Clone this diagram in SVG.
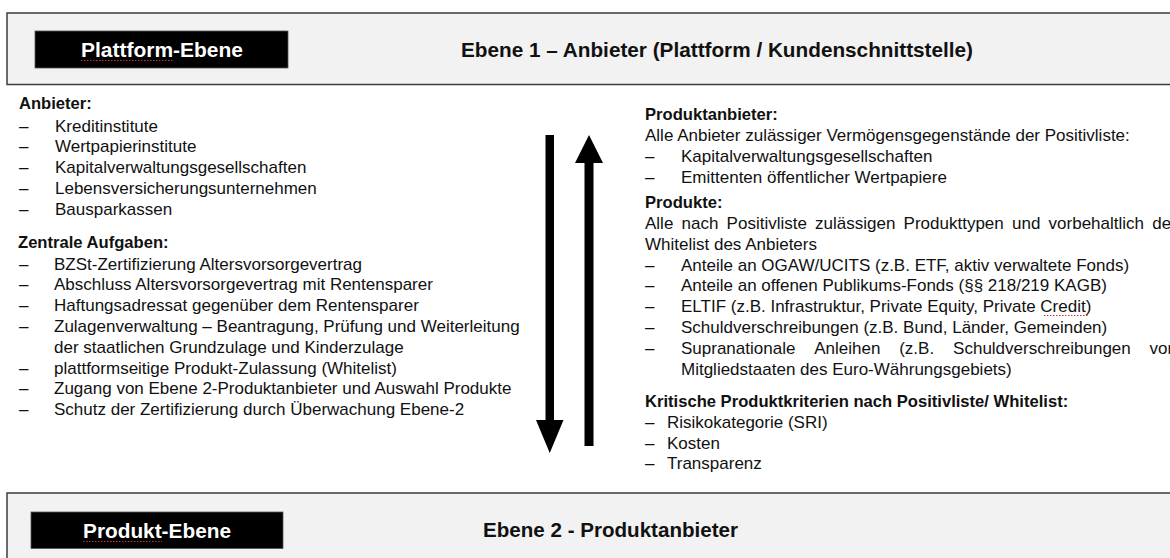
<svg xmlns="http://www.w3.org/2000/svg" width="1170" height="558" viewBox="0 0 1170 558">
<style>
  .band { fill: #f2f2f2; stroke: #3c3c3c; stroke-width: 1.5; }
  .tag { fill: #000; stroke: #555; stroke-width: 0.8; }
  .tagtxt { font-family: "Liberation Sans", Arial, sans-serif; font-size: 19.7px; font-weight: bold; fill: #fff; text-anchor: middle; }
  .title { font-family: "Liberation Sans", Arial, sans-serif; font-size: 19.7px; font-weight: bold; fill: #111; }
  .t { font-family: "Liberation Sans", Arial, sans-serif; font-size: 17px; fill: #111; }
  .b { font-family: "Liberation Sans", Arial, sans-serif; font-size: 16.6px; font-weight: bold; fill: #111; }
  .spell { stroke: #d03030; stroke-width: 1.2; stroke-dasharray: 1.5 1.5; fill: none; }
  .arrow { fill: #000; }
</style>

<g id="plattform-ebene">
  <rect class="band" x="7" y="13" width="1175" height="71.5"/>
  <rect class="tag" x="35" y="31" width="253" height="37"/>
  <text class="tagtxt" x="162" y="57" textLength="162" lengthAdjust="spacingAndGlyphs">Plattform-Ebene</text>
  <line class="spell" x1="81" y1="60.5" x2="173" y2="60.5"/>
  <text class="title" x="461" y="56.7" textLength="512" lengthAdjust="spacingAndGlyphs">Ebene 1 – Anbieter (Plattform / Kundenschnittstelle)</text>
</g>

<g id="anbieter">
  <text class="b" x="19" y="108.5">Anbieter:</text>
  <text class="t" x="19" y="131.5">–</text><text class="t" x="55" y="131.5">Kreditinstitute</text>
  <text class="t" x="19" y="152.3">–</text><text class="t" x="55" y="152.3">Wertpapierinstitute</text>
  <text class="t" x="19" y="173.1">–</text><text class="t" x="55" y="173.1">Kapitalverwaltungsgesellschaften</text>
  <text class="t" x="19" y="193.9">–</text><text class="t" x="55" y="193.9">Lebensversicherungsunternehmen</text>
  <text class="t" x="19" y="214.7">–</text><text class="t" x="55" y="214.7">Bausparkassen</text>
</g>

<g id="zentrale-aufgaben">
  <text class="b" x="18" y="248">Zentrale Aufgaben:</text>
  <text class="t" x="19" y="269.5">–</text><text class="t" x="54" y="269.5">BZSt-Zertifizierung Altersvorsorgevertrag</text>
  <text class="t" x="19" y="290.3">–</text><text class="t" x="54" y="290.3">Abschluss Altersvorsorgevertrag mit Rentensparer</text>
  <text class="t" x="19" y="311.1">–</text><text class="t" x="54" y="311.1">Haftungsadressat gegenüber dem Rentensparer</text>
  <text class="t" x="19" y="331.9">–</text><text class="t" x="54" y="331.9">Zulagenverwaltung – Beantragung, Prüfung und Weiterleitung</text>
  <text class="t" x="54" y="352.7">der staatlichen Grundzulage und Kinderzulage</text>
  <text class="t" x="19" y="373.5">–</text><text class="t" x="54" y="373.5">plattformseitige Produkt-Zulassung (Whitelist)</text>
  <text class="t" x="19" y="394.3">–</text><text class="t" x="54" y="394.3">Zugang von Ebene 2-Produktanbieter und Auswahl Produkte</text>
  <text class="t" x="19" y="415.1">–</text><text class="t" x="54" y="415.1">Schutz der Zertifizierung durch Überwachung Ebene-2</text>
</g>

<g id="connectors">
  <polygon class="arrow" points="545.5,135 554,135 554,420 563.5,420 549.75,453 536,420 545.5,420"/>
  <polygon class="arrow" points="589,135 603,163 593.5,163 593.5,446 584.5,446 584.5,163 575,163"/>
</g>

<g id="produktanbieter">
  <text class="b" x="645" y="120">Produktanbieter:</text>
  <text class="t" x="645" y="141">Alle Anbieter zulässiger Vermögensgegenstände der Positivliste:</text>
  <text class="t" x="645" y="161.8">–</text><text class="t" x="681" y="161.8">Kapitalverwaltungsgesellschaften</text>
  <text class="t" x="645" y="182.6">–</text><text class="t" x="681" y="182.6">Emittenten öffentlicher Wertpapiere</text>
</g>

<g id="produkte">
  <text class="b" x="645" y="208">Produkte:</text>
  <text class="t" y="229"><tspan x="645">Alle</tspan><tspan x="681.5">nach</tspan><tspan x="726.6">Positivliste</tspan><tspan x="815.1">zulässigen</tspan><tspan x="903.6">Produkttypen</tspan><tspan x="1012">und</tspan><tspan x="1048.6">vorbehaltlich</tspan><tspan x="1152.2">der</tspan></text>
  <text class="t" x="645" y="249.8">Whitelist des Anbieters</text>
  <text class="t" x="645" y="270.6">–</text><text class="t" x="681" y="270.6">Anteile an OGAW/UCITS (z.B. ETF, aktiv verwaltete Fonds)</text>
  <text class="t" x="645" y="291.4">–</text><text class="t" x="681" y="291.4">Anteile an offenen Publikums-Fonds (§§ 218/219 KAGB)</text>
  <text class="t" x="645" y="312.2">–</text><text class="t" x="681" y="312.2">ELTIF (z.B. Infrastruktur, Private Equity, Private Credit)</text>
  <line class="spell" x1="1044" y1="315.5" x2="1089" y2="315.5"/>
  <text class="t" x="645" y="333">–</text><text class="t" x="681" y="333">Schuldverschreibungen (z.B. Bund, Länder, Gemeinden)</text>
  <text class="t" x="645" y="353.8">–</text><text class="t" y="353.8"><tspan x="681">Supranationale</tspan><tspan x="814.2">Anleihen</tspan><tspan x="899.2">(z.B.</tspan><tspan x="953.1">Schuldverschreibungen</tspan><tspan x="1149.6">von</tspan></text>
  <text class="t" x="681" y="374.6">Mitgliedstaaten des Euro-Währungsgebiets)</text>
</g>

<g id="kriterien">
  <text class="b" x="645" y="407">Kritische Produktkriterien nach Positivliste/ Whitelist:</text>
  <text class="t" x="645" y="427.8">–</text><text class="t" x="667" y="427.8">Risikokategorie (SRI)</text>
  <text class="t" x="645" y="448.6">–</text><text class="t" x="667" y="448.6">Kosten</text>
  <text class="t" x="645" y="469.4">–</text><text class="t" x="667" y="469.4">Transparenz</text>
</g>

<g id="produkt-ebene">
  <rect class="band" x="7" y="493" width="1175" height="80"/>
  <rect class="tag" x="31" y="512" width="252" height="36.5"/>
  <text class="tagtxt" x="157" y="538" textLength="148" lengthAdjust="spacingAndGlyphs">Produkt-Ebene</text>
  <line class="spell" x1="83" y1="541.5" x2="162" y2="541.5"/>
  <text class="title" x="483" y="537" textLength="255" lengthAdjust="spacingAndGlyphs">Ebene 2 - Produktanbieter</text>
</g>
</svg>
